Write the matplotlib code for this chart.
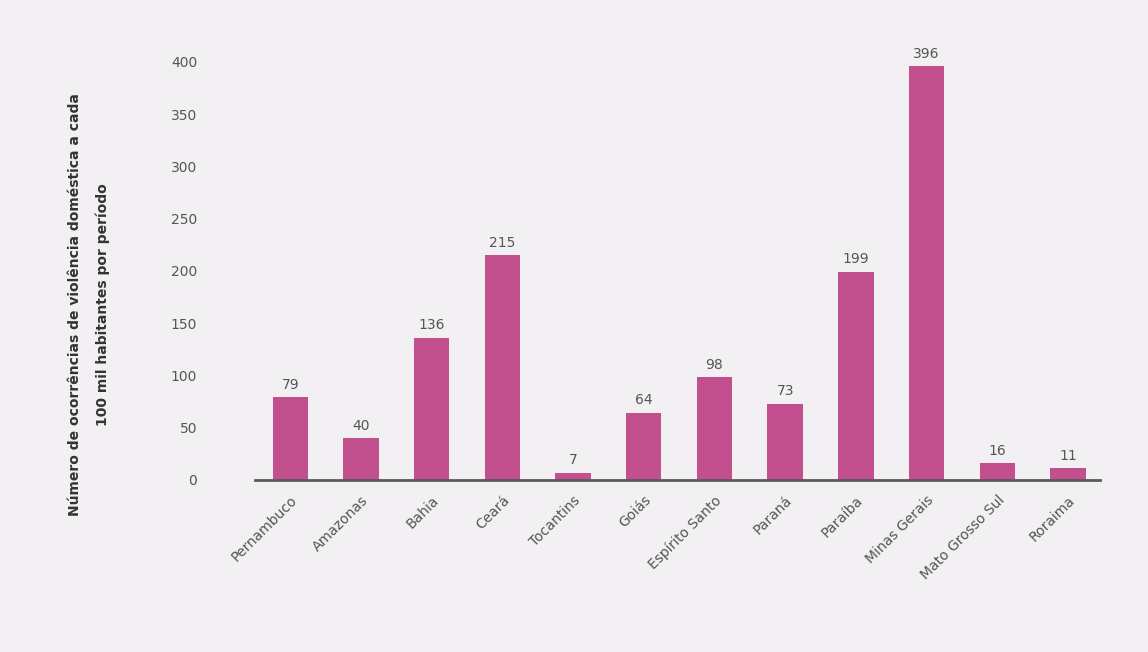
import matplotlib.pyplot as plt

# Values
categories = ["Pernambuco", "Amazonas", "Bahia", "Ceará", "Tocantins", "Goiás",
              "Espírito Santo", "Paraná", "Paraíba", "Minas Gerais",
              "Mato Grosso Sul", "Roraima"]
values = [79, 40, 136, 215, 7, 64, 98, 73, 199, 396, 16, 11]

bar_color = "#c2508f"
bg_color = "#f2f0f2"
text_color = "#555555"

fig = plt.figure(figsize=(11.48, 6.52), dpi=100, facecolor=bg_color)
ax = fig.add_axes([0.222, 0.264, 0.736, 0.673], facecolor=bg_color)

x = range(len(categories))
bars = ax.bar(x, values, width=0.5, color=bar_color)

# value labels above each bar
for rect, v in zip(bars, values):
    ax.annotate(str(v), (rect.get_x() + rect.get_width() / 2, rect.get_height()),
                xytext=(0, 4), textcoords="offset points",
                ha="center", va="bottom", fontsize=10, color=text_color)

ax.set_xlim(-0.5, len(categories) - 0.55)
ax.set_ylim(0, 420)
ax.set_yticks(range(0, 401, 50))
ax.set_xticks(list(x))
ax.set_xticklabels(categories, rotation=45, ha="right", rotation_mode="anchor",
                   fontsize=10, color=text_color)

ax.tick_params(axis="y", left=False, pad=38, labelsize=10, labelcolor=text_color)
ax.tick_params(axis="x", bottom=False, pad=6)

for side in ["top", "right", "left"]:
    ax.spines[side].set_visible(False)
ax.spines["bottom"].set_color("#5a5a5a")
ax.spines["bottom"].set_linewidth(2)

ax.set_ylabel("Número de ocorrências de violência doméstica a cada\n100 mil habitantes por período",
              fontsize=10, fontweight="bold", color="#333333", linespacing=2.1)
ax.yaxis.set_label_coords(-0.172, 0.40)

fig.savefig("out.png", dpi=100, facecolor=bg_color)
